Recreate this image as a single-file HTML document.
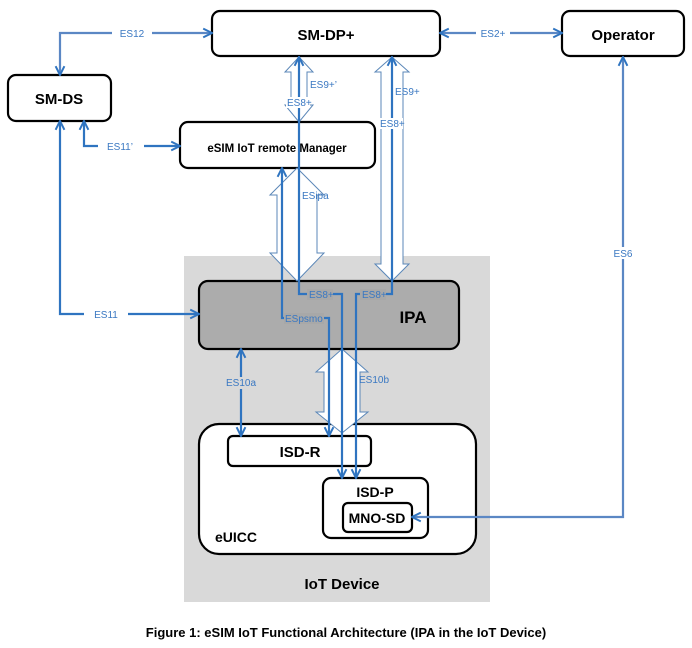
<!DOCTYPE html>
<html><head><meta charset="utf-8"><style>
html,body{margin:0;padding:0;background:#fff;}
svg{display:block;font-family:"Liberation Sans",Arial,sans-serif;}
.b{font-weight:bold;fill:#000;}
.l{font-size:10px;fill:#3a78c2;}
</style></head><body>
<svg width="692" height="648" viewBox="0 0 692 648" xmlns="http://www.w3.org/2000/svg">
<defs>
<marker id="a" viewBox="0 0 10 10" refX="9" refY="5" markerWidth="11" markerHeight="11" orient="auto-start-reverse" markerUnits="userSpaceOnUse">
<path d="M1,1 L9,5 L1,9" fill="none" stroke="#2f74c0" stroke-width="1.8"/></marker>
</defs>
<rect x="184" y="256" width="306" height="346" fill="#d9d9d9"/>
<text x="342" y="589" class="b" font-size="15" text-anchor="middle" fill="#333">IoT Device</text>
<rect x="212" y="11" width="228" height="45" rx="8" fill="#fff" stroke="#000" stroke-width="2.2"/>
<text x="326" y="40" class="b" font-size="15" text-anchor="middle">SM-DP+</text>
<rect x="562" y="11" width="122" height="45" rx="8" fill="#fff" stroke="#000" stroke-width="2.2"/>
<text x="623" y="40" class="b" font-size="15" text-anchor="middle">Operator</text>
<rect x="8" y="75" width="103" height="46" rx="8" fill="#fff" stroke="#000" stroke-width="2.2"/>
<text x="59" y="104" class="b" font-size="15" text-anchor="middle">SM-DS</text>
<rect x="180" y="122" width="195" height="46" rx="8" fill="#fff" stroke="#000" stroke-width="2.2"/>
<text x="277" y="152" class="b" font-size="11.5" text-anchor="middle">eSIM IoT remote Manager</text>
<rect x="199" y="281" width="260" height="68" rx="9" fill="#acacac" stroke="#000" stroke-width="2.2"/>
<text x="413" y="323" class="b" font-size="17" text-anchor="middle">IPA</text>
<rect x="199" y="424" width="277" height="130" rx="20" fill="#fff" stroke="#000" stroke-width="2.2"/>
<text x="215" y="542" class="b" font-size="14">eUICC</text>
<rect x="228" y="436" width="143" height="30" rx="5" fill="#fff" stroke="#000" stroke-width="2.2"/>
<text x="300" y="457" class="b" font-size="15" text-anchor="middle">ISD-R</text>
<rect x="323" y="478" width="105" height="60" rx="8" fill="#fff" stroke="#000" stroke-width="2.2"/>
<text x="375" y="497" class="b" font-size="14" text-anchor="middle">ISD-P</text>
<rect x="343" y="503" width="69" height="29" rx="5" fill="#fff" stroke="#000" stroke-width="2.2"/>
<text x="377" y="523" class="b" font-size="14" text-anchor="middle">MNO-SD</text>
<g fill="#fff" stroke="#5b87b8" stroke-width="1">
<polygon points="299,57 313,72 307,72 307,105 313,105 299,122 285,105 291,105 291,72 285,72"/>
<polygon points="392,57 409,72 403,72 403,264 409,264 392,281 375,264 381,264 381,72 375,72"/>
<polygon points="297,168 324,195 317,195 317,253 324,253 297,281 270,253 277,253 277,195 270,195"/>
<polygon points="342,349 368,372 360,372 360,412 368,412 342,433 316,412 324,412 324,372 316,372"/>
</g>
<g fill="none" stroke="#2f74c0" stroke-width="2.2">
<polyline points="212,33 60,33 60,75" marker-start="url(#a)" marker-end="url(#a)" stroke="#5b87c4"/>
<line x1="440" y1="33" x2="562" y2="33" marker-start="url(#a)" marker-end="url(#a)" stroke="#5b87c4"/>
<polyline points="180,146 84,146 84,121" marker-start="url(#a)" marker-end="url(#a)"/>
<polyline points="199,314 60,314 60,121" marker-start="url(#a)" marker-end="url(#a)"/>
<polyline points="412,517 623,517 623,57" marker-start="url(#a)" marker-end="url(#a)" stroke="#5b87c4"/>
<line x1="241" y1="349" x2="241" y2="436" marker-start="url(#a)" marker-end="url(#a)"/>
<polyline points="299,57 299,294 342,294 342,478" marker-start="url(#a)" marker-end="url(#a)"/>
<polyline points="392,57 392,294 356,294 356,478" marker-start="url(#a)" marker-end="url(#a)"/>
<polyline points="282,168 282,318 329,318 329,436" marker-start="url(#a)" marker-end="url(#a)"/>
</g>
<g class="l">
<rect x="112" y="27" width="40" height="12" fill="#fff"/><text x="132" y="37" text-anchor="middle">ES12</text>
<rect x="476" y="27" width="34" height="12" fill="#fff"/><text x="493" y="37" text-anchor="middle">ES2+</text>
<rect x="98" y="140" width="46" height="12" fill="#fff"/><text x="120" y="150" text-anchor="middle">ES11’</text>
<rect x="84" y="308" width="44" height="12" fill="#fff"/><text x="106" y="318" text-anchor="middle">ES11</text>
<rect x="612" y="247" width="22" height="12" fill="#fff"/><text x="623" y="257" text-anchor="middle">ES6</text>
<rect x="226" y="377" width="30" height="12" fill="#d9d9d9"/><text x="241" y="386" text-anchor="middle">ES10a</text>
<text x="310" y="88">ES9+’</text>
<rect x="286" y="97" width="24" height="11" fill="#fff"/><text x="287" y="106">ES8+</text>
<text x="395" y="95">ES9+</text>
<rect x="379" y="118" width="24" height="11" fill="#fff"/><text x="380" y="127">ES8+</text>
<text x="302" y="199">ESipa</text>
<rect x="307" y="289" width="26" height="11" fill="#a8a8a8"/><text x="309" y="298">ES8+</text>
<rect x="360" y="289" width="26" height="11" fill="#a8a8a8"/><text x="362" y="298">ES8+</text>
<rect x="284" y="313" width="40" height="11" fill="#a8a8a8"/><text x="285" y="322">ESpsmo</text>
<text x="359" y="383">ES10b</text>
</g>
<text x="346" y="637" class="b" font-size="13" text-anchor="middle">Figure 1: eSIM IoT Functional Architecture (IPA in the IoT Device)</text>
</svg>
</body></html>
